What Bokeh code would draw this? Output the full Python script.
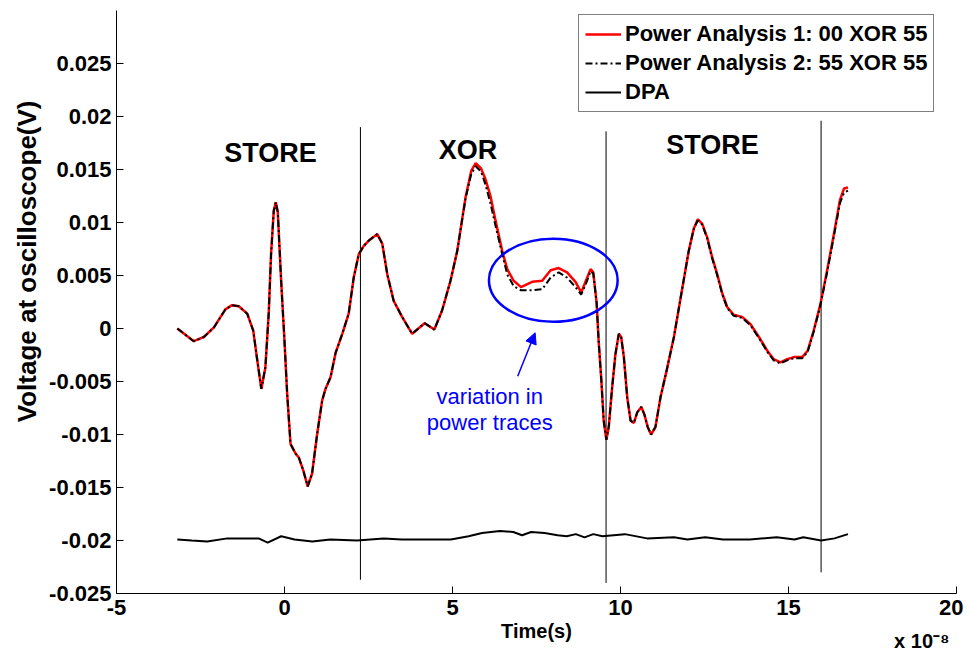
from bokeh.plotting import figure
from bokeh.models import (Legend, LegendItem, Label, Arrow, NormalHead,
                          FixedTicker, Title)
from bokeh.embed import file_html
from bokeh.resources import INLINE

# ---------------- data (time in units of 1e-8 s) ----------------
time = [-3.19, -2.70, -2.40, -2.10, -1.76, -1.56, -1.36, -1.11, -0.93, -0.81,
        -0.69, -0.57, -0.47, -0.40, -0.32, -0.26, -0.20, -0.10, 0.00, 0.08,
        0.18, 0.33, 0.43, 0.56, 0.69, 0.82, 0.97, 1.12, 1.22, 1.37,
        1.52, 1.72, 1.91, 2.06, 2.21, 2.36, 2.51, 2.76, 2.91, 3.06,
        3.25, 3.50, 3.80, 4.17, 4.46, 4.69, 4.94, 5.14, 5.39, 5.56,
        5.69, 5.85, 5.98, 6.13, 6.28, 6.48, 6.63, 6.82, 7.04, 7.37,
        7.67, 7.92, 8.16, 8.41, 8.66, 8.83, 8.97, 9.11, 9.19, 9.29,
        9.35, 9.43, 9.50, 9.58, 9.65, 9.75, 9.85, 9.95, 10.02, 10.10,
        10.20, 10.30, 10.40, 10.50, 10.62, 10.71, 10.81, 10.91, 11.04, 11.19,
        11.37, 11.59, 11.79, 12.03, 12.18, 12.30, 12.43, 12.58, 12.73, 12.88,
        13.03, 13.18, 13.37, 13.62, 13.87, 14.12, 14.37, 14.56, 14.76, 14.96,
        15.16, 15.41, 15.57, 15.75, 15.95, 16.15, 16.35, 16.53, 16.65, 16.77]

pa1 = [0.0000, -0.0012, -0.0008, 0.0001, 0.0018, 0.0022, 0.0021, 0.0014, -0.0002, -0.0030,
       -0.0057, -0.0037, 0.0014, 0.0070, 0.0111, 0.0119, 0.0110, 0.0045, -0.0012, -0.0062,
       -0.0109, -0.0118, -0.0122, -0.0134, -0.0149, -0.0137, -0.0100, -0.0068, -0.0057, -0.0046,
       -0.0023, -0.0005, 0.0014, 0.0048, 0.0070, 0.0078, 0.0083, 0.0089, 0.0080, 0.0051,
       0.0026, 0.0011, -0.0005, 0.0005, -0.0001, 0.0017, 0.0045, 0.0073, 0.0124, 0.0149,
       0.0156, 0.0151, 0.0141, 0.0125, 0.0102, 0.0073, 0.0056, 0.0045, 0.0039, 0.0044,
       0.0045, 0.0055, 0.0057, 0.0053, 0.0044, 0.0034, 0.0045, 0.0056, 0.0053, 0.0024,
       -0.0012, -0.0049, -0.0087, -0.0105, -0.0093, -0.0056, -0.0024, -0.0005, -0.0008, -0.0027,
       -0.0065, -0.0087, -0.0089, -0.0079, -0.0074, -0.0081, -0.0093, -0.0100, -0.0093, -0.0065,
       -0.0040, -0.0008, 0.0029, 0.0073, 0.0094, 0.0103, 0.0099, 0.0086, 0.0067, 0.0051,
       0.0033, 0.0020, 0.0013, 0.0011, 0.0004, -0.0008, -0.0021, -0.0029, -0.0032, -0.0029,
       -0.0027, -0.0027, -0.0021, -0.0002, 0.0023, 0.0055, 0.0089, 0.0121, 0.0132, 0.0133]

pa2 = [0.0000, -0.0012, -0.0008, 0.0001, 0.0018, 0.0022, 0.0021, 0.0014, -0.0002, -0.0030,
       -0.0057, -0.0037, 0.0014, 0.0070, 0.0111, 0.0119, 0.0110, 0.0045, -0.0012, -0.0062,
       -0.0109, -0.0118, -0.0122, -0.0134, -0.0149, -0.0137, -0.0100, -0.0068, -0.0057, -0.0046,
       -0.0023, -0.0005, 0.0014, 0.0048, 0.0070, 0.0078, 0.0083, 0.0089, 0.0080, 0.0051,
       0.0026, 0.0011, -0.0005, 0.0005, -0.0001, 0.0017, 0.0045, 0.0073, 0.0123, 0.0146,
       0.0153, 0.0148, 0.0136, 0.0118, 0.0097, 0.0070, 0.0051, 0.0040, 0.0036, 0.0036,
       0.0037, 0.0048, 0.0053, 0.0048, 0.0039, 0.0032, 0.0042, 0.0054, 0.0052, 0.0024,
       -0.0012, -0.0049, -0.0087, -0.0105, -0.0093, -0.0056, -0.0024, -0.0005, -0.0008, -0.0027,
       -0.0065, -0.0087, -0.0089, -0.0079, -0.0074, -0.0081, -0.0093, -0.0100, -0.0093, -0.0065,
       -0.0040, -0.0008, 0.0029, 0.0073, 0.0094, 0.0102, 0.0098, 0.0085, 0.0066, 0.0050,
       0.0032, 0.0019, 0.0012, 0.0010, 0.0003, -0.0009, -0.0022, -0.0030, -0.0033, -0.0030,
       -0.0028, -0.0028, -0.0022, -0.0003, 0.0022, 0.0053, 0.0087, 0.0118, 0.0128, 0.0130]

dpa_time = [-3.19, -2.76, -2.30, -1.70, -0.77, -0.50, -0.10, 0.30, 0.83, 1.36,
            2.16, 2.95, 3.49, 4.28, 4.95, 5.48, 5.88, 6.41, 6.81, 7.07,
            7.34, 7.74, 8.13, 8.40, 8.67, 8.93, 9.19, 9.46, 10.13, 10.79,
            11.59, 11.99, 12.52, 13.05, 13.85, 14.65, 15.18, 15.44, 15.97, 16.37,
            16.77]
dpa = [-0.0199, -0.0200, -0.0201, -0.0198, -0.0198, -0.0202, -0.0196, -0.0199, -0.0201, -0.0199,
       -0.0200, -0.0198, -0.0199, -0.0199, -0.0199, -0.0196, -0.0193, -0.0191, -0.0192, -0.0195,
       -0.0192, -0.0193, -0.0195, -0.0196, -0.0194, -0.0197, -0.0194, -0.0196, -0.0194, -0.0198,
       -0.0197, -0.0199, -0.0197, -0.0199, -0.0199, -0.0197, -0.0199, -0.0197, -0.0200, -0.0198,
       -0.0194]

boundary_x = [2.26, 9.57, 15.97]
boundary_top = [0.0190, 0.0186, 0.0196]
boundary_bottom = [-0.0237, -0.0240, -0.0230]

phase_names = ["STORE", "XOR", "STORE"]
phase_x = [-0.42, 5.46, 12.74]
phase_y = [0.0166, 0.0168, 0.0173]

x_ticks = [-5, 0, 5, 10, 15, 20]
x_tick_labels = ["-5", "0", "5", "10", "15", "20"]
y_ticks = [-0.025, -0.02, -0.015, -0.01, -0.005, 0, 0.005, 0.01, 0.015, 0.02, 0.025]
y_tick_labels = ["-0.025", "-0.02", "-0.015", "-0.01", "-0.005", "0",
                 "0.005", "0.01", "0.015", "0.02", "0.025"]

series_names = ["Power Analysis 1: 00 XOR 55", "Power Analysis 2: 55 XOR 55", "DPA"]
x_title = "Time(s)"
x_exponent = "x 10\u207b\u2078"
y_title = "Voltage at oscilloscope(V)"

FONT = "Liberation Sans"

p = figure(width=963, height=650, x_range=(-5, 20), y_range=(-0.025, 0.03),
           output_backend="svg", toolbar_location=None,
           min_border_left=116, min_border_right=7, min_border_top=10,
           min_border_bottom=57)
p.outline_line_color = None
p.grid.visible = False
p.background_fill_color = "white"
p.border_fill_color = "white"

# axes
p.xaxis.ticker = FixedTicker(ticks=x_ticks)
p.xaxis.major_label_overrides = {t: l for t, l in zip(x_ticks, x_tick_labels)}
p.yaxis.ticker = FixedTicker(ticks=y_ticks)
p.yaxis.major_label_overrides = {t: l for t, l in zip(y_ticks, y_tick_labels)}
for ax in (p.xaxis, p.yaxis):
    ax.major_tick_in = 7
    ax.major_tick_out = 0
    ax.minor_tick_line_color = None
    ax.axis_line_color = "black"
    ax.major_tick_line_color = "black"
    ax.major_label_text_font = FONT
    ax.major_label_text_font_style = "bold"
    ax.major_label_text_font_size = "22px"
    ax.major_label_text_color = "black"
    ax.axis_label_text_font = FONT
    ax.axis_label_text_font_style = "bold"
    ax.axis_label_text_color = "black"
p.xaxis.axis_label = x_title
p.xaxis.axis_label_text_font_size = "20px"
p.xaxis.major_label_standoff = 6
p.xaxis.axis_label_standoff = 2
p.yaxis.major_label_standoff = 5

# y-axis title placed on the left, shifted up as in the reference
p.add_layout(Title(text=y_title, align="right", offset=90, standoff=10,
                   text_font=FONT, text_font_style="bold",
                   text_font_size="26px", text_color="black"), "left")

# exponent of the time axis, to the lower right
p.add_layout(Title(text=x_exponent, align="right", offset=7, standoff=-30,
                   vertical_align="top",
                   text_font=FONT, text_font_style="bold",
                   text_font_size="20px", text_color="black"), "below")

# phase boundaries
p.segment(x0=boundary_x, y0=boundary_bottom, x1=boundary_x, y1=boundary_top,
          line_color="black", line_width=1)

# traces
r1 = p.line(time, pa1, line_color="#ff0000", line_width=2.5)
r2 = p.line(time, pa2, line_color="black", line_width=2, line_dash="7 3 2 3")
r3 = p.line(dpa_time, dpa, line_color="black", line_width=2)

# phase labels
for name, x, y in zip(phase_names, phase_x, phase_y):
    p.add_layout(Label(x=x, y=y, text=name, text_align="center",
                       text_baseline="middle", text_font=FONT,
                       text_font_style="bold", text_font_size="27px",
                       text_color="black"))

# variation annotation
p.ellipse(x=[8.0], y=[0.00455], width=3.83, height=0.00785,
          fill_color=None, line_color="#0000ff", line_width=2.5)
p.add_layout(Arrow(end=NormalHead(size=11, fill_color="#0000ff", line_color="#0000ff"),
                   x_start=6.94, y_start=-0.0045, x_end=7.46, y_end=-0.0004,
                   line_color="#0000ff", line_width=1.5))
for txt, yy in (("variation in", -0.0064), ("power traces", -0.0089)):
    p.add_layout(Label(x=6.11, y=yy, text=txt, text_align="center",
                       text_baseline="middle", text_font=FONT,
                       text_font_size="22px", text_color="#0000ff"))

legend = Legend(items=[LegendItem(label=series_names[0], renderers=[r1]),
                       LegendItem(label=series_names[1], renderers=[r2]),
                       LegendItem(label=series_names[2], renderers=[r3])],
                location=(462, 481), padding=6, spacing=3, margin=0,
                label_height=24, glyph_height=24, glyph_width=36,
                label_standoff=4, border_line_color="black", border_line_width=1,
                background_fill_color="white", background_fill_alpha=1,
                label_text_font=FONT, label_text_font_style="bold",
                label_text_font_size="22px", label_text_color="black")
p.add_layout(legend)

open("out.html", "w").write(file_html(p, INLINE))
